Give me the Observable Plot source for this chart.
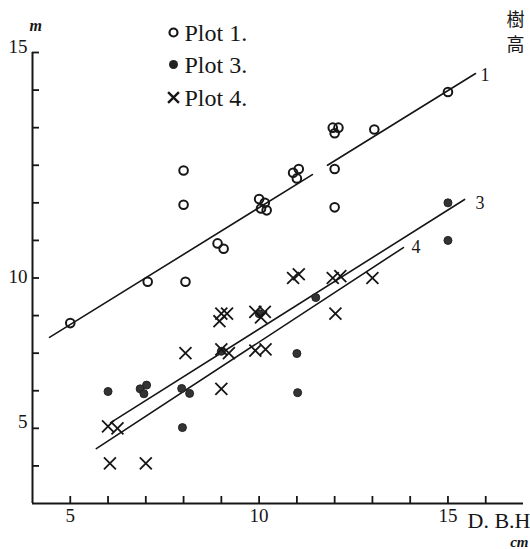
<!DOCTYPE html>
<html><head><meta charset="utf-8">
<script src="https://cdn.jsdelivr.net/npm/d3@7"></script>
<script src="https://cdn.jsdelivr.net/npm/@observablehq/plot@0.6"></script>
<style>
body{margin:0;background:#fff;}
g[aria-label="legend-text"] text{letter-spacing:2.8px;}
g[aria-label="dbh-label"] text{letter-spacing:0.6px;}
</style>
</head><body><div id="chart"></div>
<script>
// D.B.H (cm), tree height (m)
const plot1 = [[5,7.8],[7.05,8.9],[8.05,8.9],[8,10.95],[8,11.86],[8.9,9.92],[9.06,9.78],[10.0,11.1],[10.15,11.0],[10.05,10.85],[10.2,10.8],[10.9,11.8],[11.05,11.9],[11.0,11.65],[11.95,13.0],[12.1,13.0],[12.0,12.85],[12.0,11.9],[12.0,10.88],[13.05,12.95],[15,13.95]];
const plot3 = [[6,5.98],[6.85,6.05],[7.02,6.15],[6.95,5.92],[7.95,6.06],[8.16,5.93],[7.97,5.02],[9.0,7.05],[10.0,8.05],[11.5,8.48],[11.0,6.99],[11.02,5.95],[15,11.0],[15,10.0]];
const plot4 = [[6.0,5.05],[6.25,5.0],[6.05,4.07],[7.0,4.07],[8.05,7.0],[9.0,6.05],[9.0,8.05],[9.15,8.05],[8.95,7.85],[9.0,7.1],[9.2,7.0],[9.9,8.1],[10.15,8.1],[10.05,7.95],[9.9,7.07],[10.17,7.1],[10.9,9.0],[11.05,9.1],[11.95,9.0],[12.15,9.05],[12.02,8.05],[13.0,9.0]];
// regression lines (endpoints)
const line1a = [[4.45,7.42],[11.41,11.75]];
const line1b = [[11.81,12.0],[15.73,14.44]];
const line3 = [[6.07,5.15],[15.44,11.09]];
const line4 = [[5.69,4.46],[13.82,9.81]];
const lineNames = ["1","3","4"];
const legendLabels = ["Plot 1.","Plot 3.","Plot 4."];
const xTicks = [5,6,7,8,9,10,11,12,13,14,15,16];
const yTicks = [4,5,6,7,8,9,10,11,12,13,14,15];
const xTickLabels = [5,10,15];
const yTickLabels = [{v:15,t:"15"},{v:9,t:"10"},{v:5,t:"5"}];

const pts = a => a.map(([dbh,h]) => ({dbh,h}));
const serif = "Liberation Serif, DejaVu Serif, serif";
const ink = "#161616";
const xDomain = [4,17], yDomain = [3,15];
const W = 530, H = 549, mL = 32, mR = 7, mT = 52, mB = 46;
// inward tick length (7px) expressed through the scales
const tickDX = 7 * (xDomain[1] - xDomain[0]) / (W - mL - mR);
const tickDY = 7 * (yDomain[1] - yDomain[0]) / (H - mT - mB);

const lineMark = a => Plot.line(pts(a), {x:"dbh", y:"h", stroke:ink, strokeWidth:1.6});
const endLabel = (a, name, dx, dy) => Plot.text([pts(a)[1]], {x:"dbh", y:"h", text:() => name, dx, dy, textAnchor:"start", lineAnchor:"middle", fontSize:18, fontFamily:serif, fill:ink});
const note = (t, o) => Plot.text([t], {lineAnchor:"middle", fill:ink, ...o});

const chart = Plot.plot({
  width:W, height:H,
  marginLeft:mL, marginRight:mR, marginTop:mT, marginBottom:mB,
  x:{domain:xDomain, axis:null}, y:{domain:yDomain, axis:null},
  style:{fontFamily:serif, background:"transparent", color:ink},
  marks:[
    Plot.ruleX([xDomain[0]], {stroke:ink, strokeWidth:2}),
    Plot.ruleY([yDomain[0]], {stroke:ink, strokeWidth:2}),
    Plot.ruleX(xTicks, {x:d => d, y1:yDomain[0], y2:yDomain[0] + tickDY, stroke:ink, strokeWidth:1.8}),
    Plot.ruleY(yTicks, {y:d => d, x1:xDomain[0], x2:xDomain[0] + tickDX, stroke:ink, strokeWidth:1.8}),
    Plot.text(xTickLabels, {x:d => d, y:yDomain[0], dy:12, text:d => String(d), lineAnchor:"middle", fontSize:19, fill:ink}),
    ...yTickLabels.map(l => Plot.text([l], {x:xDomain[0], y:"v", text:"t", dx:-5, dy:l.t === "10" ? -1 : -6, textAnchor:"end", lineAnchor:"middle", fontSize:19, fill:ink})),
    lineMark(line1a), lineMark(line1b), lineMark(line3), lineMark(line4),
    endLabel(line1b, lineNames[0], 5, 2),
    endLabel(line3, lineNames[1], 11, 4),
    endLabel(line4, lineNames[2], 8, 0),
    Plot.dot(pts(plot1), {x:"dbh", y:"h", r:4.3, stroke:ink, strokeWidth:2, fill:"none"}),
    Plot.dot(pts(plot3), {x:"dbh", y:"h", r:4, fill:"#333", stroke:"#222", strokeWidth:1}),
    Plot.dot(pts(plot4), {x:"dbh", y:"h", symbol:"times", r:5.5, stroke:ink, strokeWidth:1.8}),
    // legend
    Plot.dot([0], {frameAnchor:"top-left", dx:141, dy:-20, r:4, stroke:ink, strokeWidth:2.2, fill:"none"}),
    Plot.dot([0], {frameAnchor:"top-left", dx:141, dy:12, r:4.5, fill:"#222"}),
    Plot.dot([0], {frameAnchor:"top-left", dx:141, dy:45, symbol:"times", r:5, stroke:ink, strokeWidth:2.4}),
    ...legendLabels.map((t,i) => note(t, {frameAnchor:"top-left", dx:152, dy:[-19,13,46][i], textAnchor:"start", fontSize:24, ariaLabel:"legend-text"})),
    note("m", {frameAnchor:"top-left", dx:-3, dy:-27, fontStyle:"italic", fontWeight:"bold", fontSize:16}),
    note("樹", {frameAnchor:"top-right", dx:-8, dy:-32, textAnchor:"middle", fontSize:18, fontFamily:"Noto Sans CJK JP"}),
    note("高", {frameAnchor:"top-right", dx:-8, dy:-7, textAnchor:"middle", fontSize:18, fontFamily:"Noto Sans CJK JP"}),
    note("D. B.H", {frameAnchor:"bottom-right", dx:7, dy:17, textAnchor:"end", fontSize:22, ariaLabel:"dbh-label"}),
    note("cm", {frameAnchor:"bottom-right", dx:5, dy:39, textAnchor:"end", fontStyle:"italic", fontWeight:"bold", fontSize:15})
  ]
});
document.getElementById("chart").append(chart);
</script>
</body></html>
